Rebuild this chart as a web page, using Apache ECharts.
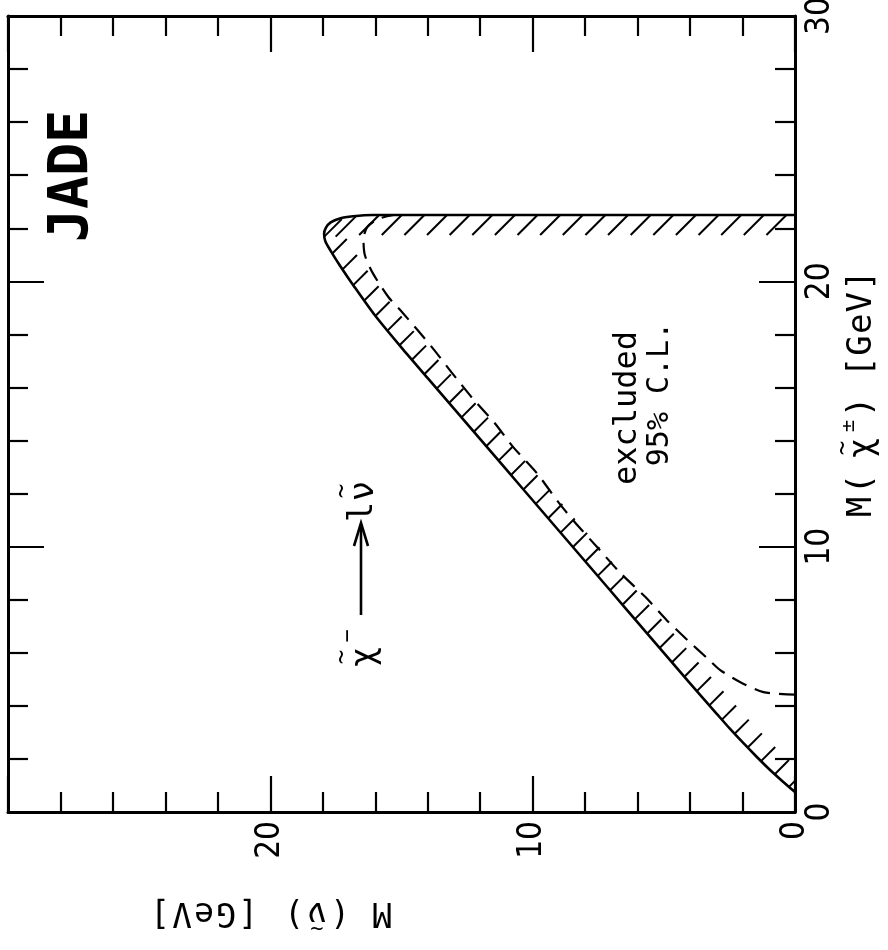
<!DOCTYPE html>
<html><head><meta charset="utf-8">
<script src="https://cdn.jsdelivr.net/npm/echarts@6/dist/echarts.min.js"></script>
<style>html,body{margin:0;padding:0;background:#fff}#c{width:888px;height:950px}</style>
</head><body><div id="c"></div>
<script>
// Solid exclusion boundary: M(sneutrino) [GeV] vs M(chargino) [GeV]
const solidNu  = [0, 0.5, 1.0, 1.5, 2.0, 2.5, 3.0, 3.5, 4.0, 5.0, 6.0, 7.0, 8.0, 9.0, 10.0, 11.0, 12.0, 13.0, 14.0, 15.0, 16.0, 16.8, 17.35, 17.7, 17.9, 17.95, 17.88, 17.7, 17.35, 16.85, 16.1, 15.0, 0];
const solidChi = [0.75, 1.18, 1.63, 2.12, 2.63, 3.16, 3.72, 4.28, 4.85, 6.0, 7.15, 8.3, 9.45, 10.6, 11.75, 12.9, 14.05, 15.2, 16.35, 17.5, 18.7, 19.8, 20.6, 21.15, 21.5, 21.78, 22.02, 22.22, 22.37, 22.45, 22.5, 22.5, 22.5];
// Dashed curve
const dashNu  = [0, 1.2, 2.1, 2.85, 3.35, 4.1, 4.9, 5.7, 6.65, 7.45, 8.4, 9.0, 9.85, 10.75, 11.45, 12.3, 13.1, 13.85, 14.95, 15.5, 16.1, 16.4, 16.45, 16.3, 15.9, 15.3];
const dashChi = [4.42, 4.52, 4.9, 5.35, 5.8, 6.48, 7.24, 8.1, 9.0, 9.88, 10.93, 11.65, 12.78, 13.76, 14.66, 15.6, 16.58, 17.53, 18.81, 19.41, 20.32, 21.0, 21.6, 22.05, 22.35, 22.5];
// Tick labels
const nuTickLabels  = [0, 10, 20];
const chiTickLabels = [0, 10, 20, 30];

const MONO = '"DejaVu Sans Mono", "Liberation Mono", monospace';
const NARROW = '"Liberation Sans Narrow", "DejaVu Sans Condensed", "Liberation Sans", sans-serif';
const BLACK = '#000';

function axisBase(extra) {
  return Object.assign({
    type: 'value', min: 0, max: 30, interval: 10,
    axisLine: { show: true, onZero: false, lineStyle: { color: BLACK, width: 3 } },
    axisTick: { show: true, inside: true, length: 36, lineStyle: { color: BLACK, width: 2.2 } },
    minorTick: { show: true, splitNumber: 5, length: 20, lineStyle: { color: BLACK, width: 2.2 } },
    splitLine: { show: false }, minorSplitLine: { show: false }
  }, extra);
}

const chart = echarts.init(document.getElementById('c'), null, { renderer: 'canvas' });

function hatchRender(params, api) {
  const pts = solidNu.map((v, i) => api.coord([v, solidChi[i]]));
  const children = [];
  const depth = 20;
  let next = 8, acc = 0;
  for (let i = 0; i < pts.length - 1; i++) {
    const p = pts[i], q = pts[i + 1];
    const dx = q[0] - p[0], dy = q[1] - p[1];
    const L = Math.hypot(dx, dy);
    if (L < 1e-6) continue;
    const ux = dx / L, uy = dy / L;
    const nx = -uy, ny = ux;
    let hx = Math.SQRT1_2, hy = -Math.SQRT1_2;
    let dot = hx * nx + hy * ny;
    if (dot < 0) { hx = -hx; hy = -hy; dot = -dot; }
    const sinA = Math.abs(ux * hy - uy * hx);
    const spacing = Math.min(23, Math.max(19, 16 / Math.max(sinA, 0.1)));
    while (next <= acc + L) {
      const t = (next - acc) / L;
      const x = p[0] + dx * t, y = p[1] + dy * t;
      if (dot > 0.6) {
        const len = Math.min(29, depth / dot);
        children.push({ type: 'line', shape: { x1: x, y1: y, x2: x + hx * len, y2: y + hy * len },
          style: { stroke: BLACK, lineWidth: 2 } });
      }
      next += spacing;
    }
    acc += L;
  }
  return { type: 'group', children: children };
}

// text helper: a single glyph centered at local (x, y)
function glyph(t, x, y, size, extra) {
  return { type: 'text', x: x, y: y,
    style: Object.assign({ text: t, fontFamily: MONO, fontSize: size, fill: BLACK, align: 'center', verticalAlign: 'middle' }, extra || {}) };
}
// lay out a string with a fixed pitch, first glyph centered at x0
function row(str, x0, pitch, y, size) {
  const out = [];
  for (let i = 0; i < str.length; i++) {
    if (str[i] !== ' ') out.push(glyph(str[i], x0 + i * pitch, y, size));
  }
  return out;
}

const option = {
  backgroundColor: '#fff',
  animation: false,
  grid: { left: 8, right: 93, top: 16, bottom: 138, containLabel: false, outerBoundsMode: 'none' },
  xAxis: [
    axisBase({ position: 'bottom', inverse: true,
      axisLabel: { show: true, rotate: 90, margin: 9, fontSize: 33, fontFamily: NARROW, color: BLACK,
        showMinLabel: true, showMaxLabel: true,
        formatter: v => nuTickLabels.indexOf(v) >= 0 ? String(v) : '' } }),
    axisBase({ position: 'top', inverse: true, axisLabel: { show: false } })
  ],
  yAxis: [
    axisBase({ position: 'right',
      axisLabel: { show: true, rotate: 90, margin: 9, fontSize: 33, fontFamily: NARROW, color: BLACK,
        showMinLabel: true, showMaxLabel: true,
        formatter: v => chiTickLabels.indexOf(v) >= 0 ? String(v) : '' } }),
    axisBase({ position: 'left', axisLabel: { show: false } })
  ],
  series: [
    { type: 'line', xAxisIndex: 0, yAxisIndex: 0, data: solidNu.map((v, i) => [v, solidChi[i]]),
      showSymbol: false, symbol: 'none', smooth: 0.25, clip: true, silent: true,
      lineStyle: { color: BLACK, width: 2.6 }, z: 4 },
    { type: 'line', xAxisIndex: 0, yAxisIndex: 0, data: dashNu.map((v, i) => [v, dashChi[i]]),
      showSymbol: false, symbol: 'none', smooth: 0.25, clip: true, silent: true,
      lineStyle: { color: BLACK, width: 2.2, type: [16, 9] }, z: 3 },
    { type: 'custom', xAxisIndex: 0, yAxisIndex: 0, data: [[0, 0]], renderItem: hatchRender,
      clip: true, silent: true, z: 3 }
  ],
  graphic: { elements: [
    { type: 'text', x: 73, y: 176, rotation: Math.PI / 2,
      style: { text: 'JADE', fontFamily: MONO, fontSize: 55, fontWeight: 'bold', fill: BLACK, align: 'center', verticalAlign: 'middle' } },
    { type: 'text', x: 628, y: 408, rotation: Math.PI / 2,
      style: { text: 'excluded', fontFamily: MONO, fontSize: 32, fill: BLACK, align: 'center', verticalAlign: 'middle' } },
    { type: 'text', x: 660, y: 394, rotation: Math.PI / 2,
      style: { text: '95% C.L.', fontFamily: MONO, fontSize: 30, fill: BLACK, align: 'center', verticalAlign: 'middle' } },
    // right axis title  M(χ̃±) [GeV]
    { type: 'group', x: 862, y: 395, rotation: Math.PI / 2, children: [
      glyph('M', -112, 0, 34), glyph('(', -89, 0, 34),
      glyph('χ', -53, 1, 34), glyph('~', -53, -18, 24), glyph('±', -31, -13, 20),
      glyph(')', -12, 0, 34)
    ].concat(row('[GeV]', 28, 21.6, 0, 34)) },
    // bottom axis title  M (ν̃) [GeV]  (upside down)
    { type: 'group', x: 262, y: 912, rotation: Math.PI, children: [
      glyph('M', -120, 0, 33), glyph('(', -78, 0, 33),
      glyph('ν', -55, 0, 33), glyph('~', -55, -16, 22),
      glyph(')', -32, 0, 33)
    ].concat(row('[GeV]', 14, 22, 0, 33)) },
    // decay annotation  χ̃⁻ ——> l ν̃
    { type: 'group', x: 360, y: 575, rotation: Math.PI / 2, children: [
      glyph('χ', -82, 5, 34), glyph('~', -82, -17, 24), glyph('−', -61, -12, 22),
      { type: 'line', shape: { x1: -40, y1: 1, x2: 51, y2: 1 }, style: { stroke: BLACK, lineWidth: 2.6 } },
      { type: 'polyline', shape: { points: [[29, -6], [52, 1], [29, 8]] }, style: { stroke: BLACK, lineWidth: 2.6, fill: null } },
      glyph('l', 63, 3, 34), glyph('ν', 84, 4, 34), glyph('~', 84, -17, 24)
    ] }
  ] }
};
chart.setOption(option);
</script>
</body></html>
